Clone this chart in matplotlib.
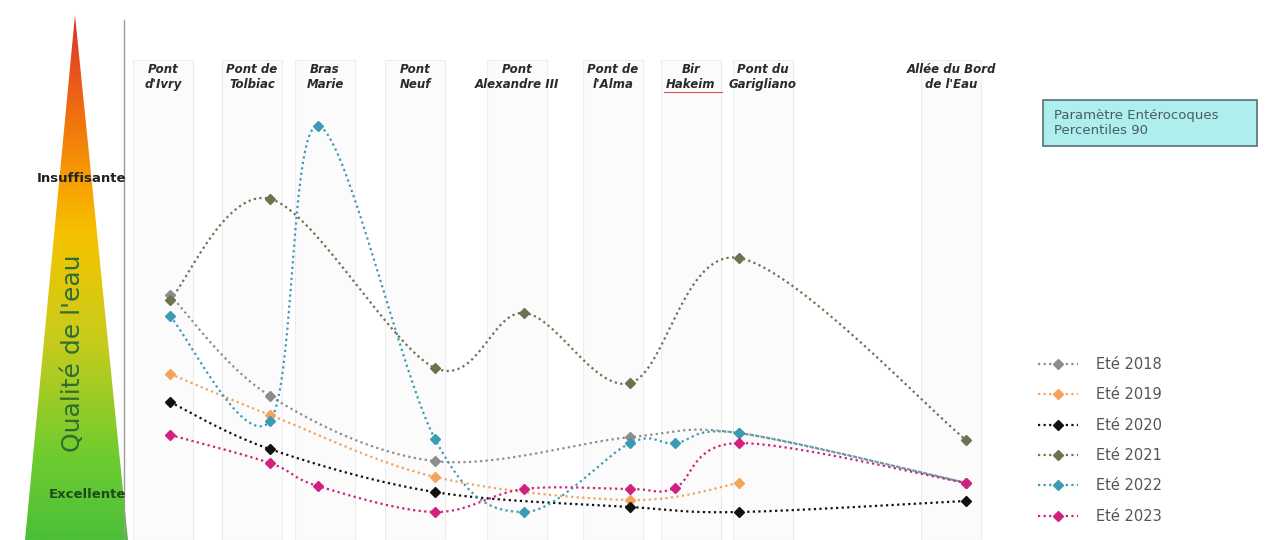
import numpy as np
import matplotlib
matplotlib.use("Agg")
import matplotlib.pyplot as plt
from matplotlib.patches import Polygon, Rectangle
from matplotlib.colors import LinearSegmentedColormap
from matplotlib.lines import Line2D

# bridges along the river (header labels) and where each one sits on the x axis
bridges = ["Pont\nd'Ivry", "Pont de\nTolbiac", "Bras\nMarie", "Pont\nNeuf",
           "Pont\nAlexandre III", "Pont de\nl'Alma", "Bir\nHakeim",
           "Pont du\nGarigliano", "Allée du Bord\nde l'Eau"]
bridge_x = [170, 270, 318, 435, 524, 630, 675, 739, 966]

# quality score: 0 = Excellente, 100 = Insuffisante (None = no sample)
ete_2018 = [63.0, 31.0, None, 10.4, None, 18.0, None, 19.3, 3.5]
ete_2019 = [38.0, 25.0, None, 5.4, None, -1.9, None, 3.5, None]
ete_2020 = [29.1, 14.2, None, 0.6, None, -4.1, None, -5.7, -2.2]
ete_2021 = [61.4, 93.4, None, 39.9, 57.3, 35.1, None, 74.7, 17.1]
ete_2022 = [56.3, 23.1, 116.5, 17.4, -5.7, 16.1, 16.1, 19.3, 3.5]
ete_2023 = [18.7, 9.8, 2.5, -5.7, 1.6, 1.6, 1.9, 16.1, 3.5]

series = [("Eté 2018", ete_2018, "#8d8d8d"),
          ("Eté 2019", ete_2019, "#f4a35c"),
          ("Eté 2020", ete_2020, "#111111"),
          ("Eté 2021", ete_2021, "#6c7350"),
          ("Eté 2022", ete_2022, "#3c9bb4"),
          ("Eté 2023", ete_2023, "#d2207f")]


def smooth(xs, ys, n=40):
    # excel-like smoothed line: cubic bezier with catmull-rom control points
    pts = np.column_stack([xs, ys]).astype(float)
    out = [pts[:1]]
    for i in range(len(pts) - 1):
        p0 = pts[max(i - 1, 0)]
        p1 = pts[i]
        p2 = pts[i + 1]
        p3 = pts[min(i + 2, len(pts) - 1)]
        c1 = p1 + (p2 - p0) / 6
        c2 = p2 - (p3 - p1) / 6
        t = np.linspace(0, 1, n)[1:, None]
        seg = ((1 - t) ** 3) * p1 + 3 * ((1 - t) ** 2) * t * c1 + 3 * (1 - t) * t ** 2 * c2 + t ** 3 * p2
        out.append(seg)
    pts = np.vstack(out)
    return pts[:, 0], pts[:, 1]


W, H = 1268, 540
fig = plt.figure(figsize=(W / 100, H / 100), dpi=100)

# background axes in pixel units for the decorations
bg = fig.add_axes([0, 0, 1, 1])
bg.set_xlim(0, W)
bg.set_ylim(H, 0)
bg.axis("off")

# faint column bands behind each bridge
bands = [133, 222, 295, 385, 487, 583, 661, 733, 921]
for bx in bands:
    bg.add_patch(Rectangle((bx, 60), 60, H - 60, facecolor="#fbfbfb",
                           edgecolor="#ededed", lw=0.8, zorder=0))

# quality gradient triangle
cmap = LinearSegmentedColormap.from_list(
    "quality", [(0.0, "#d8322a"), (0.18, "#f06c10"), (0.33, "#f7a400"),
                (0.42, "#f5c300"), (0.62, "#c8cc1c"), (0.85, "#6ccb30"),
                (1.0, "#4cbf38")])
grad = np.linspace(0, 1, 256)[:, None]
im = bg.imshow(grad, cmap=cmap, aspect="auto", extent=(25, 128, 540, 15), zorder=1)
tri = Polygon([(75, 15), (25, 540), (128, 540)], closed=True,
              transform=bg.transData, facecolor="none", edgecolor="none")
bg.add_patch(tri)
im.set_clip_path(tri)

bg.plot([124, 124], [20, 540], color="#9a9a9a", lw=1.0, zorder=2)

bg.text(126, 178, "Insuffisante", ha="right", va="center", fontsize=9.5,
        fontweight="bold", color="#222222", zorder=3)
bg.text(126, 494, "Excellente", ha="right", va="center", fontsize=9.5,
        fontweight="bold", color="#1c4a1c", zorder=3)
bg.text(73, 353, "Qualité de l'eau", rotation=90, ha="center", va="center",
        fontsize=18, color="#2e6e33", zorder=3)

# header labels
for bx, name in zip(bands, bridges):
    bg.text(bx + 30, 77, name, ha="center", va="center", fontsize=8.5,
            fontweight="bold", style="italic", color="#2a2a2a",
            linespacing=1.2, zorder=3)
bg.plot([664, 722], [92, 92], color="#e05050", lw=0.8, zorder=3)

# parameter box
bg.add_patch(Rectangle((1043, 100), 214, 46, facecolor="#aeeeed",
                       edgecolor="#55707a", lw=1.2, zorder=3))
bg.text(1054, 123, "Paramètre Entérocoques\nPercentiles 90", ha="left",
        va="center", fontsize=9.5, color="#4a5c62", linespacing=1.2, zorder=4)

# data axes on top, same box, quality score on y
ax = fig.add_axes([0, 0, 1, 1])
ax.patch.set_alpha(0)
ax.axis("off")
ax.set_xlim(0, W)
ax.set_ylim((494 - H) / 3.16, 494 / 3.16)

handles = []
for label, vals, col in series:
    xs = [x for x, v in zip(bridge_x, vals) if v is not None]
    ys = [v for v in vals if v is not None]
    sx, sy = smooth(xs, ys)
    ax.plot(sx, sy, linestyle=(0, (1, 1.5)), color=col, lw=1.6, zorder=4)
    ax.plot(xs, ys, linestyle="none", marker="D", markersize=5.5, color=col,
            zorder=5)
    handles.append(Line2D([], [], linestyle=(0, (1, 1.5)), lw=1.6, color=col,
                          marker="D", markersize=5.5, label=label))

leg = ax.legend(handles=handles, loc="upper left",
                bbox_to_anchor=(1025 / W, 1 - 344 / H), frameon=False,
                fontsize=10.5, labelspacing=1.05, handlelength=2.7,
                handletextpad=1.3, labelcolor="#555555")

fig.savefig("out.png", dpi=100)
